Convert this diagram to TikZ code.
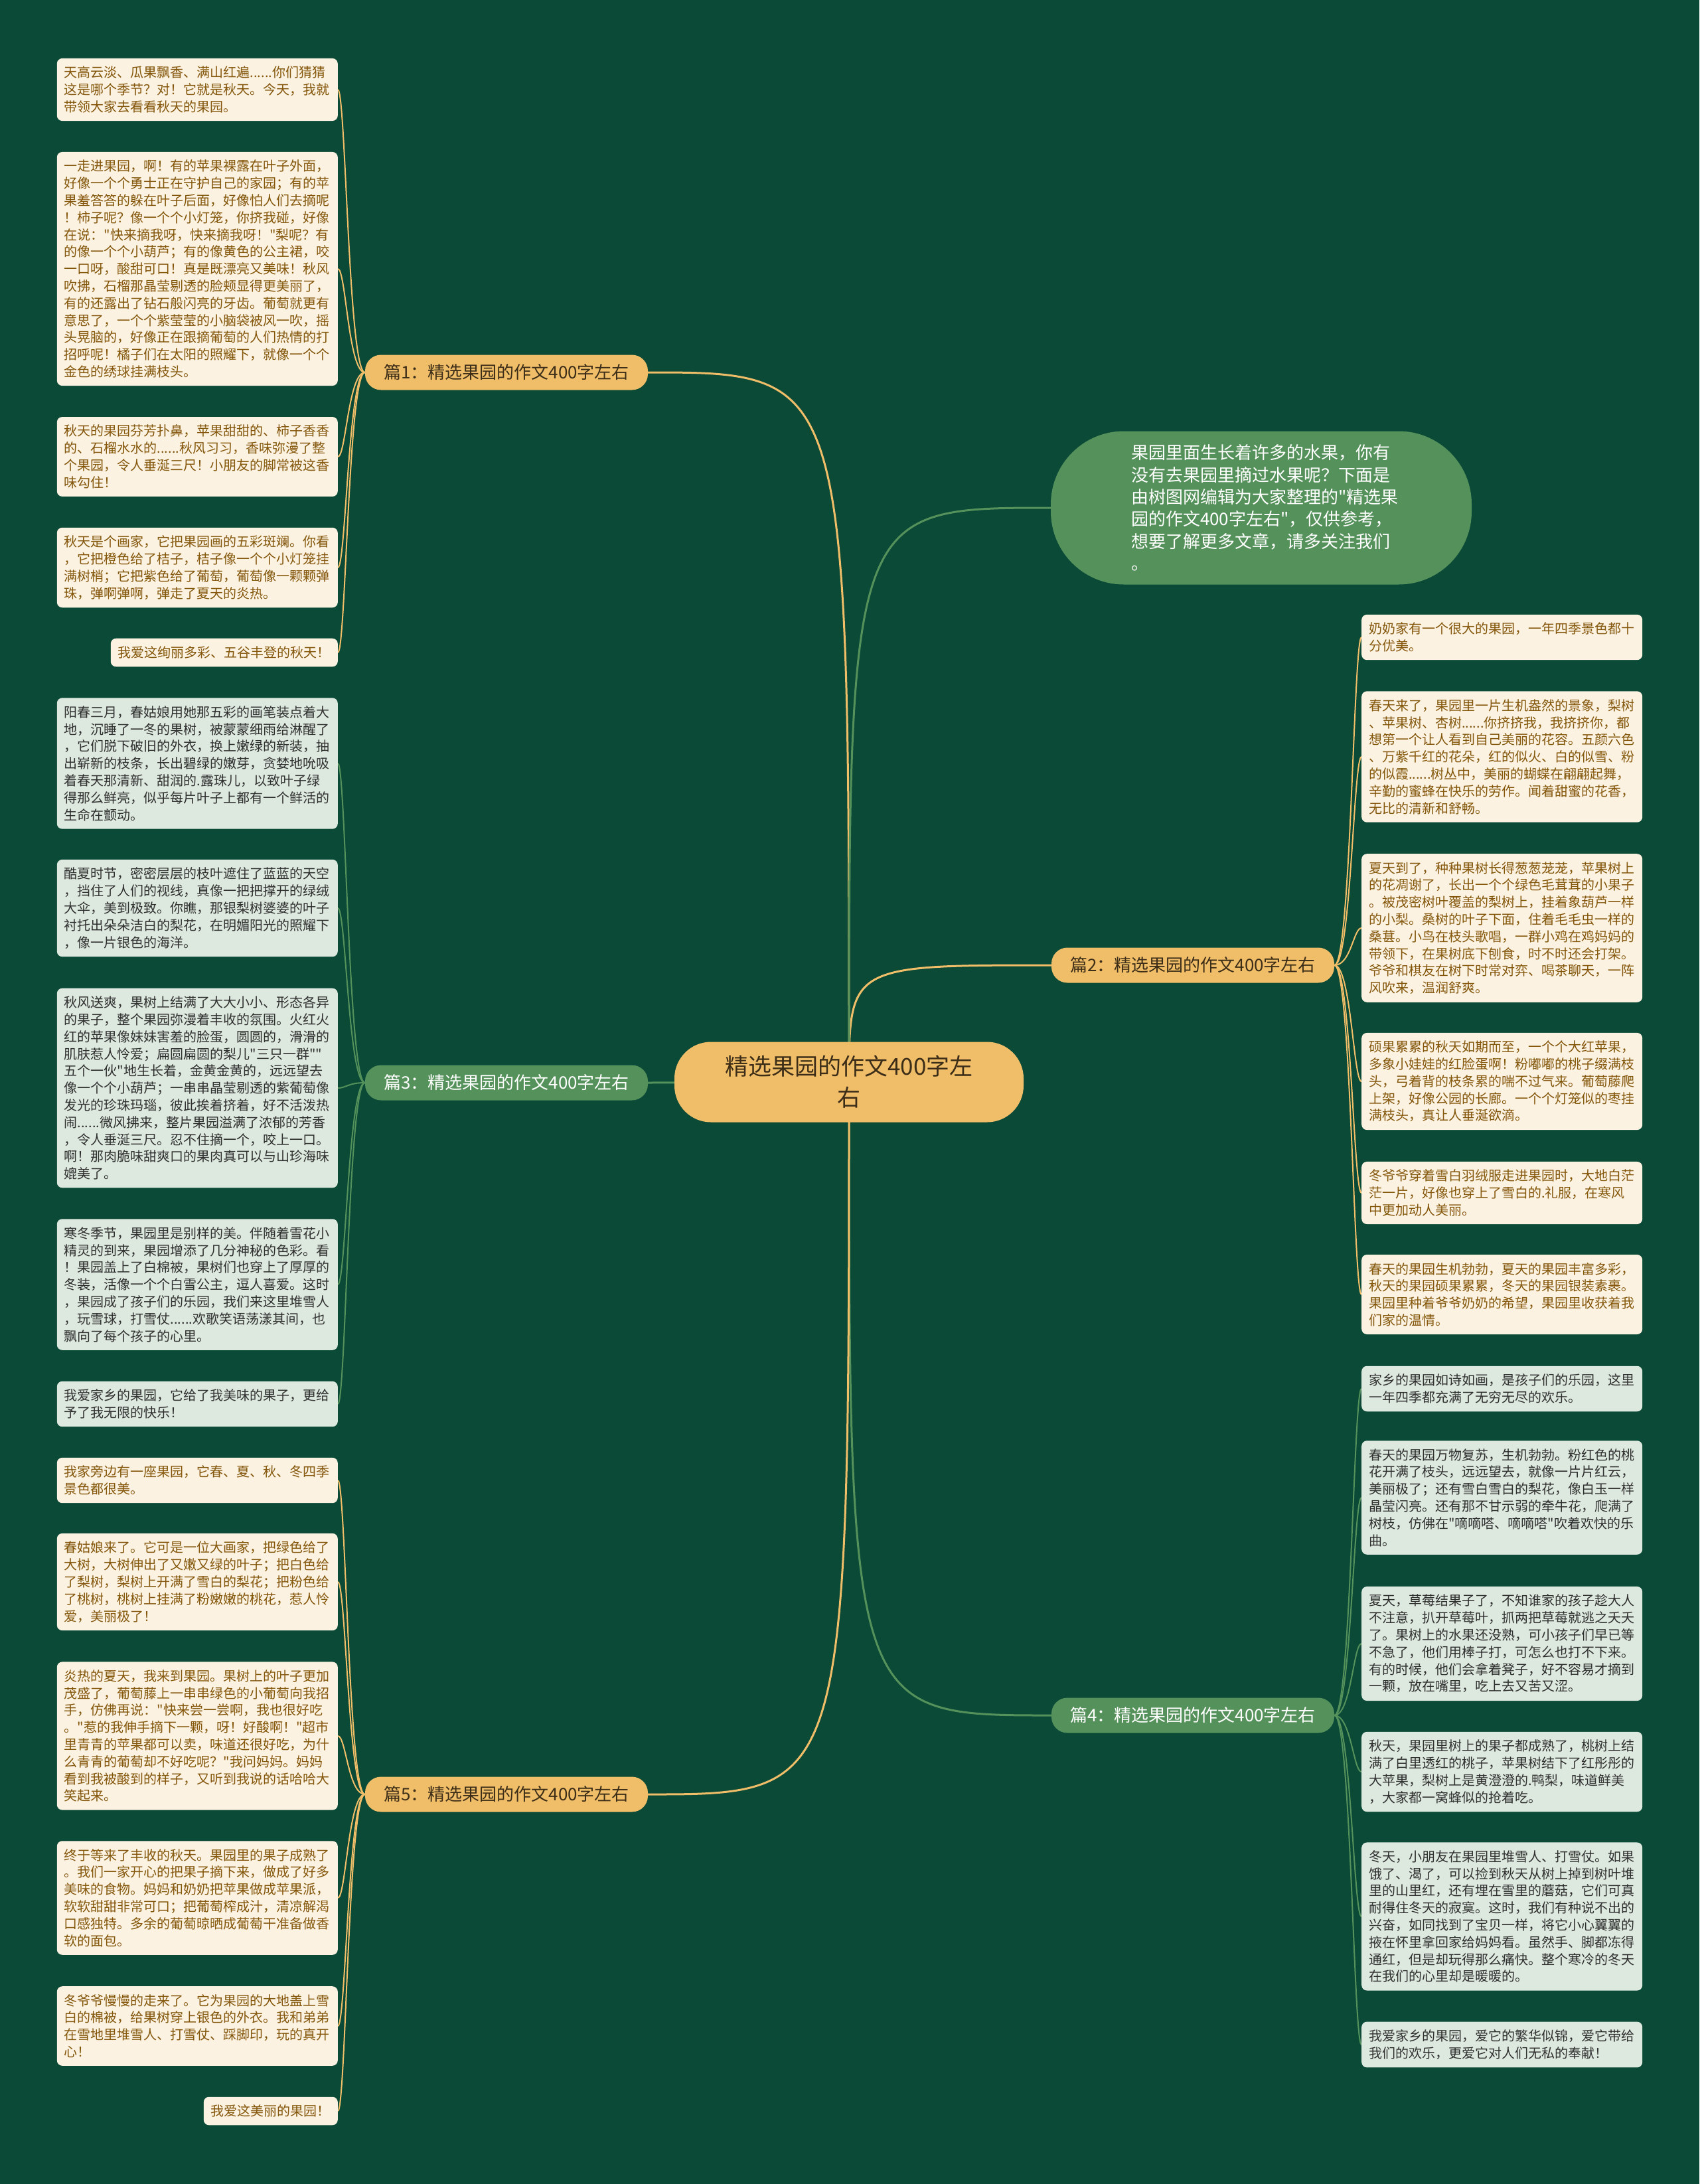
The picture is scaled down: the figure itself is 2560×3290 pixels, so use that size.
\documentclass[tikz,border=0pt]{standalone}
\usepackage{fontspec}
\setmainfont{Noto Sans CJK SC}[Ligatures=TeXOff]
\usepackage{tikz}

\definecolor{bgcol}{HTML}{0A4A37}
\definecolor{gold}{HTML}{F0BD68}
\definecolor{leafgreen}{HTML}{55915A}
\definecolor{cream}{HTML}{FCF2E2}
\definecolor{mint}{HTML}{DDE9DF}
\definecolor{leafbrown}{HTML}{83560A}
\definecolor{inkgray}{HTML}{2F2F2F}
\definecolor{rootink}{HTML}{3B2D17}

\newcommand{\leaffont}{\fontsize{20pt}{25.8pt}\selectfont}
\pgfdeclarelayer{bg}
\pgfsetlayers{bg,main}

\tikzset{
  rootbox/.style={fill=gold, rounded corners=55pt, minimum width=526pt, minimum height=121pt,
    align=center, text=rootink, font={\fontsize{35pt}{47pt}\selectfont}},
  branchgold/.style={fill=gold, rounded corners=24pt, minimum width=426pt, minimum height=53pt,
    text=rootink, font={\fontsize{26pt}{30pt}\selectfont}},
  branchgreen/.style={branchgold, fill=leafgreen, text=white},
  introbox/.style={fill=leafgreen, rounded corners=110pt, minimum width=634pt, minimum height=231pt,
    text=white, text width=392pt, align=left, font={\fontsize{26pt}{33.3pt}\selectfont}},
  leafgold/.style={fill=cream, text=leafbrown, rounded corners=8pt, inner xsep=11pt, inner ysep=12pt,
    text width=401pt, align=left, font=\leaffont},
  leafmint/.style={leafgold, fill=mint, text=inkgray},
  limb/.style={line width=3pt},
  twig/.style={line width=2pt},
}

\begin{document}
\begin{tikzpicture}[x=1pt,y=-1pt]
  \begin{pgfonlayer}{bg}
    \fill[bgcol] (0,0) rectangle (2560,3290);
  \end{pgfonlayer}

  % centre and main branches
  \node[rootbox] (root) at (1279,1630) {精选果园的作文400字左\\右};
  \node[introbox] (intro) at (1900,765) {果园里面生长着许多的水果，你有\\没有去果园里摘过水果呢？下面是\\由树图网编辑为大家整理的"精选果\\园的作文400字左右"，仅供参考，\\想要了解更多文章，请多关注我们\\。};
  \node[branchgold] (b1) at (763,561) {篇1：精选果园的作文400字左右};
  \node[branchgold] (b2) at (1797,1454) {篇2：精选果园的作文400字左右};
  \node[branchgreen] (b3) at (763,1631) {篇3：精选果园的作文400字左右};
  \node[branchgreen] (b4) at (1797,2584) {篇4：精选果园的作文400字左右};
  \node[branchgold] (b5) at (763,2703) {篇5：精选果园的作文400字左右};

  % leaves of b1
  \node[leafgold, anchor=east] (a1) at (509,135) {天高云淡、瓜果飘香、满山红遍......你们猜猜\\这是哪个季节？对！它就是秋天。今天，我就\\带领大家去看看秋天的果园。};
  \node[leafgold, anchor=east] (a2) at (509,405) {一走进果园，啊！有的苹果裸露在叶子外面，\\好像一个个勇士正在守护自己的家园；有的苹\\果羞答答的躲在叶子后面，好像怕人们去摘呢\\！柿子呢？像一个个小灯笼，你挤我碰，好像\\在说："快来摘我呀，快来摘我呀！"梨呢？有\\的像一个个小葫芦；有的像黄色的公主裙，咬\\一口呀，酸甜可口！真是既漂亮又美味！秋风\\吹拂，石榴那晶莹剔透的脸颊显得更美丽了，\\有的还露出了钻石般闪亮的牙齿。葡萄就更有\\意思了，一个个紫莹莹的小脑袋被风一吹，摇\\头晃脑的，好像正在跟摘葡萄的人们热情的打\\招呼呢！橘子们在太阳的照耀下，就像一个个\\金色的绣球挂满枝头。};
  \node[leafgold, anchor=east] (a3) at (509,688) {秋天的果园芬芳扑鼻，苹果甜甜的、柿子香香\\的、石榴水水的......秋风习习，香味弥漫了整\\个果园，令人垂涎三尺！小朋友的脚常被这香\\味勾住！};
  \node[leafgold, anchor=east] (a4) at (509,855) {秋天是个画家，它把果园画的五彩斑斓。你看\\，它把橙色给了桔子，桔子像一个个小灯笼挂\\满树梢；它把紫色给了葡萄，葡萄像一颗颗弹\\珠，弹啊弹啊，弹走了夏天的炎热。};
  \node[leafgold, text width=320pt, anchor=east] (a5) at (509,983) {我爱这绚丽多彩、五谷丰登的秋天！};

  % leaves of b3
  \node[leafmint, anchor=east] (c1) at (509,1150) {阳春三月，春姑娘用她那五彩的画笔装点着大\\地，沉睡了一冬的果树，被蒙蒙细雨给淋醒了\\，它们脱下破旧的外衣，换上嫩绿的新装，抽\\出崭新的枝条，长出碧绿的嫩芽，贪婪地吮吸\\着春天那清新、甜润的.露珠儿，以致叶子绿\\得那么鲜亮，似乎每片叶子上都有一个鲜活的\\生命在颤动。};
  \node[leafmint, anchor=east] (c2) at (509,1368) {酷夏时节，密密层层的枝叶遮住了蓝蓝的天空\\，挡住了人们的视线，真像一把把撑开的绿绒\\大伞，美到极致。你瞧，那银梨树婆婆的叶子\\衬托出朵朵洁白的梨花，在明媚阳光的照耀下\\，像一片银色的海洋。};
  \node[leafmint, anchor=east] (c3) at (509,1639) {秋风送爽，果树上结满了大大小小、形态各异\\的果子，整个果园弥漫着丰收的氛围。火红火\\红的苹果像妹妹害羞的脸蛋，圆圆的，滑滑的\\肌肤惹人怜爱；扁圆扁圆的梨儿"三只一群""\\五个一伙"地生长着，金黄金黄的，远远望去\\像一个个小葫芦；一串串晶莹剔透的紫葡萄像\\发光的珍珠玛瑙，彼此挨着挤着，好不活泼热\\闹......微风拂来，整片果园溢满了浓郁的芳香\\，令人垂涎三尺。忍不住摘一个，咬上一口。\\啊！那肉脆味甜爽口的果肉真可以与山珍海味\\媲美了。};
  \node[leafmint, anchor=east] (c4) at (509,1935) {寒冬季节，果园里是别样的美。伴随着雪花小\\精灵的到来，果园增添了几分神秘的色彩。看\\！果园盖上了白棉被，果树们也穿上了厚厚的\\冬装，活像一个个白雪公主，逗人喜爱。这时\\，果园成了孩子们的乐园，我们来这里堆雪人\\，玩雪球，打雪仗......欢歌笑语荡漾其间，也\\飘向了每个孩子的心里。};
  \node[leafmint, anchor=east] (c5) at (509,2115) {我爱家乡的果园，它给了我美味的果子，更给\\予了我无限的快乐！};

  % leaves of b5
  \node[leafgold, anchor=east] (e1) at (509,2230) {我家旁边有一座果园，它春、夏、秋、冬四季\\景色都很美。};
  \node[leafgold, anchor=east] (e2) at (509,2383) {春姑娘来了。它可是一位大画家，把绿色给了\\大树，大树伸出了又嫩又绿的叶子；把白色给\\了梨树，梨树上开满了雪白的梨花；把粉色给\\了桃树，桃树上挂满了粉嫩嫩的桃花，惹人怜\\爱，美丽极了！};
  \node[leafgold, anchor=east] (e3) at (509,2615) {炎热的夏天，我来到果园。果树上的叶子更加\\茂盛了，葡萄藤上一串串绿色的小葡萄向我招\\手，仿佛再说："快来尝一尝啊，我也很好吃\\。"惹的我伸手摘下一颗，呀！好酸啊！"超市\\里青青的苹果都可以卖，味道还很好吃，为什\\么青青的葡萄却不好吃呢？"我问妈妈。妈妈\\看到我被酸到的样子，又听到我说的话哈哈大\\笑起来。};
  \node[leafgold, anchor=east] (e4) at (509,2859) {终于等来了丰收的秋天。果园里的果子成熟了\\。我们一家开心的把果子摘下来，做成了好多\\美味的食物。妈妈和奶奶把苹果做成苹果派，\\软软甜甜非常可口；把葡萄榨成汁，清凉解渴\\口感独特。多余的葡萄晾晒成葡萄干准备做香\\软的面包。};
  \node[leafgold, anchor=east] (e5) at (509,3052) {冬爷爷慢慢的走来了。它为果园的大地盖上雪\\白的棉被，给果树穿上银色的外衣。我和弟弟\\在雪地里堆雪人、打雪仗、踩脚印，玩的真开\\心！};
  \node[leafgold, text width=180pt, anchor=east] (e6) at (509,3180) {我爱这美丽的果园！};

  % leaves of b2
  \node[leafgold, anchor=west] (f1) at (2051,960) {奶奶家有一个很大的果园，一年四季景色都十\\分优美。};
  \node[leafgold, anchor=west] (f2) at (2051,1140) {春天来了，果园里一片生机盎然的景象，梨树\\、苹果树、杏树......你挤挤我，我挤挤你，都\\想第一个让人看到自己美丽的花容。五颜六色\\、万紫千红的花朵，红的似火、白的似雪、粉\\的似霞......树丛中，美丽的蝴蝶在翩翩起舞，\\辛勤的蜜蜂在快乐的劳作。闻着甜蜜的花香，\\无比的清新和舒畅。};
  \node[leafgold, anchor=west] (f3) at (2051,1398) {夏天到了，种种果树长得葱葱茏茏，苹果树上\\的花凋谢了，长出一个个绿色毛茸茸的小果子\\。被茂密树叶覆盖的梨树上，挂着象葫芦一样\\的小梨。桑树的叶子下面，住着毛毛虫一样的\\桑葚。小鸟在枝头歌唱，一群小鸡在鸡妈妈的\\带领下，在果树底下刨食，时不时还会打架。\\爷爷和棋友在树下时常对弈、喝茶聊天，一阵\\风吹来，温润舒爽。};
  \node[leafgold, anchor=west] (f4) at (2051,1629) {硕果累累的秋天如期而至，一个个大红苹果，\\多象小娃娃的红脸蛋啊！粉嘟嘟的桃子缀满枝\\头，弓着背的枝条累的喘不过气来。葡萄藤爬\\上架，好像公园的长廊。一个个灯笼似的枣挂\\满枝头，真让人垂涎欲滴。};
  \node[leafgold, anchor=west] (f5) at (2051,1797) {冬爷爷穿着雪白羽绒服走进果园时，大地白茫\\茫一片，好像也穿上了雪白的.礼服，在寒风\\中更加动人美丽。};
  \node[leafgold, anchor=west] (f6) at (2051,1950) {春天的果园生机勃勃，夏天的果园丰富多彩，\\秋天的果园硕果累累，冬天的果园银装素裹。\\果园里种着爷爷奶奶的希望，果园里收获着我\\们家的温情。};

  % leaves of b4
  \node[leafmint, anchor=west] (d1) at (2051,2092) {家乡的果园如诗如画，是孩子们的乐园，这里\\一年四季都充满了无穷无尽的欢乐。};
  \node[leafmint, anchor=west] (d2) at (2051,2256) {春天的果园万物复苏，生机勃勃。粉红色的桃\\花开满了枝头，远远望去，就像一片片红云，\\美丽极了；还有雪白雪白的梨花，像白玉一样\\晶莹闪亮。还有那不甘示弱的牵牛花，爬满了\\树枝，仿佛在"嘀嘀嗒、嘀嘀嗒"吹着欢快的乐\\曲。};
  \node[leafmint, anchor=west] (d3) at (2051,2476) {夏天，草莓结果子了，不知谁家的孩子趁大人\\不注意，扒开草莓叶，抓两把草莓就逃之夭夭\\了。果树上的水果还没熟，可小孩子们早已等\\不急了，他们用棒子打，可怎么也打不下来。\\有的时候，他们会拿着凳子，好不容易才摘到\\一颗，放在嘴里，吃上去又苦又涩。};
  \node[leafmint, anchor=west] (d4) at (2051,2669) {秋天，果园里树上的果子都成熟了，桃树上结\\满了白里透红的桃子，苹果树结下了红彤彤的\\大苹果，梨树上是黄澄澄的.鸭梨，味道鲜美\\，大家都一窝蜂似的抢着吃。};
  \node[leafmint, anchor=west] (d5) at (2051,2887) {冬天，小朋友在果园里堆雪人、打雪仗。如果\\饿了、渴了，可以捡到秋天从树上掉到树叶堆\\里的山里红，还有埋在雪里的蘑菇，它们可真\\耐得住冬天的寂寞。这时，我们有种说不出的\\兴奋，如同找到了宝贝一样，将它小心翼翼的\\掖在怀里拿回家给妈妈看。虽然手、脚都冻得\\通红，但是却玩得那么痛快。整个寒冷的冬天\\在我们的心里却是暖暖的。};
  \node[leafmint, anchor=west] (d6) at (2051,3080) {我爱家乡的果园，爱它的繁华似锦，爱它带给\\我们的欢乐，更爱它对人们无私的奉献！};

  % connectors
  \begin{pgfonlayer}{bg}
    \draw[limb, gold] (root.center) .. controls (root.center |- b1.east) .. (b1.east);
    \draw[limb, gold] (root.center) .. controls (root.center |- b2.west) .. (b2.west);
    \draw[limb, leafgreen] (root.center) .. controls (root.center |- intro.west) .. (intro.west);
    \draw[limb, leafgreen] (root.center) -- (b3.east);
    \draw[limb, leafgreen] (root.center) .. controls (root.center |- b4.west) .. (b4.west);
    \draw[limb, gold] (root.center) .. controls (root.center |- b5.east) .. (b5.east);
    \foreach \leaf in {a1,a2,a3,a4,a5}
      \draw[twig, gold] (b1.west) .. controls +(-25,0) and +(12,0) .. (\leaf.east);
    \foreach \leaf in {c1,c2,c3,c4,c5}
      \draw[twig, leafgreen] (b3.west) .. controls +(-25,0) and +(12,0) .. (\leaf.east);
    \foreach \leaf in {e1,e2,e3,e4,e5,e6}
      \draw[twig, gold] (b5.west) .. controls +(-25,0) and +(12,0) .. (\leaf.east);
    \foreach \leaf in {f1,f2,f3,f4,f5,f6}
      \draw[twig, gold] (b2.east) .. controls +(25,0) and +(-12,0) .. (\leaf.west);
    \foreach \leaf in {d1,d2,d3,d4,d5,d6}
      \draw[twig, leafgreen] (b4.east) .. controls +(25,0) and +(-12,0) .. (\leaf.west);
  \end{pgfonlayer}
\end{tikzpicture}
\end{document}
